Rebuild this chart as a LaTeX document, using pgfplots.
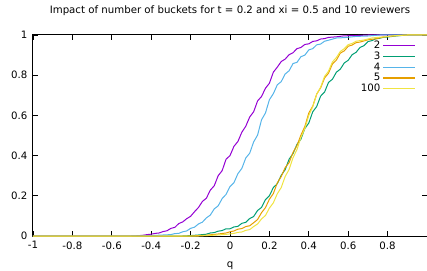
\documentclass[border=0pt]{standalone}
\usepackage{pgfplots}
\pgfplotsset{compat=1.18}
\usepackage{fontspec}
\setmainfont{DejaVu Sans}
\definecolor{gp1}{HTML}{9400D3}
\definecolor{gp2}{HTML}{009E73}
\definecolor{gp3}{HTML}{56B4E9}
\definecolor{gp4}{HTML}{E69F00}
\definecolor{gp5}{HTML}{F0E442}
\begin{document}
\begin{tikzpicture}
\begin{axis}[
  scale only axis,
  width=394pt, height=201pt,
  xmin=-1, xmax=1, ymin=0, ymax=1,
  xtick={-1,-0.8,-0.6,-0.4,-0.2,0,0.2,0.4,0.6,0.8},
  ytick={0,0.2,0.4,0.6,0.8,1},
  tick align=inside,
  major tick length=5pt,
  tick style={black, line width=0.8pt},
  axis line style={black, line width=1pt},
  /pgf/number format/assume math mode=true,
  /pgf/number format/fixed,
  /pgf/number format/precision=1,
  font=\fontsize{10.2}{12}\selectfont,
  ticklabel style={font=\fontsize{10.2}{12}\selectfont},
  xticklabel style={yshift=-2pt},
  yticklabel style={xshift=-2pt},
  title={Impact of number of buckets for t = 0.2 and xi = 0.5 and 10 reviewers},
  title style={at={(0.5,1)}, anchor=base, yshift=15pt, font=\fontsize{10.2}{12}\selectfont},
  xlabel={q},
  xlabel style={at={(0.5,0)}, anchor=base, yshift=-31pt},
  legend style={draw=none, fill=none, at={(1,1)}, anchor=north east, xshift=-8pt, yshift=-2pt, font=\fontsize{10.2}{12}\selectfont, row sep=-2.3pt},
  legend cell align=right,
  legend plot pos=right,
  legend image code/.code={\draw[#1, line width=1.4pt] (0pt,0pt) -- (32pt,0pt);},
  every axis plot/.append style={line width=1pt},
]
\addplot[gp1] coordinates {(-1,0) (-0.6,0) (-0.5,0) (-0.48,0.001) (-0.46,0.002) (-0.44,0.004) (-0.42,0.007) (-0.40,0.009) (-0.38,0.013) (-0.36,0.015) (-0.34,0.022) (-0.32,0.026) (-0.30,0.038) (-0.28,0.043) (-0.26,0.062) (-0.24,0.070) (-0.22,0.086) (-0.20,0.098) (-0.18,0.121) (-0.16,0.142) (-0.14,0.172) (-0.12,0.188) (-0.10,0.228) (-0.08,0.250) (-0.06,0.300) (-0.04,0.325) (-0.02,0.382) (0.00,0.400) (0.02,0.446) (0.04,0.470) (0.06,0.516) (0.08,0.546) (0.10,0.592) (0.12,0.618) (0.14,0.672) (0.16,0.694) (0.18,0.735) (0.20,0.760) (0.22,0.815) (0.24,0.840) (0.26,0.868) (0.28,0.880) (0.30,0.902) (0.32,0.912) (0.34,0.932) (0.36,0.938) (0.38,0.953) (0.40,0.956) (0.42,0.968) (0.44,0.971) (0.46,0.980) (0.48,0.982) (0.50,0.988) (0.54,0.991) (0.58,0.996) (0.64,0.997) (0.70,1) (1,1)};
\addlegendentry{2}
\addplot[gp2] coordinates {(-1,0) (-0.24,0) (-0.20,0.002) (-0.16,0.005) (-0.12,0.009) (-0.10,0.015) (-0.08,0.017) (-0.06,0.024) (-0.04,0.027) (-0.02,0.036) (0.00,0.036) (0.02,0.045) (0.04,0.048) (0.06,0.063) (0.08,0.068) (0.10,0.087) (0.12,0.097) (0.14,0.127) (0.16,0.142) (0.18,0.181) (0.20,0.200) (0.22,0.241) (0.24,0.260) (0.26,0.302) (0.28,0.330) (0.30,0.382) (0.32,0.410) (0.34,0.456) (0.36,0.482) (0.38,0.535) (0.40,0.562) (0.42,0.618) (0.44,0.644) (0.46,0.696) (0.48,0.716) (0.50,0.764) (0.52,0.780) (0.54,0.815) (0.56,0.830) (0.58,0.861) (0.60,0.874) (0.62,0.902) (0.64,0.914) (0.66,0.938) (0.68,0.947) (0.70,0.967) (0.72,0.972) (0.74,0.981) (0.76,0.984) (0.78,0.989) (0.80,0.990) (0.84,0.995) (0.90,1) (1,1)};
\addlegendentry{3}
\addplot[gp3] coordinates {(-1,0) (-0.5,0) (-0.44,0.001) (-0.40,0.002) (-0.36,0.004) (-0.32,0.006) (-0.30,0.007) (-0.28,0.012) (-0.26,0.013) (-0.24,0.021) (-0.22,0.025) (-0.20,0.038) (-0.18,0.044) (-0.16,0.060) (-0.14,0.069) (-0.12,0.090) (-0.10,0.104) (-0.08,0.135) (-0.06,0.150) (-0.04,0.186) (-0.02,0.207) (0.00,0.246) (0.02,0.265) (0.04,0.310) (0.06,0.336) (0.08,0.388) (0.10,0.412) (0.12,0.468) (0.14,0.502) (0.16,0.578) (0.18,0.612) (0.20,0.678) (0.22,0.708) (0.24,0.752) (0.26,0.768) (0.28,0.806) (0.30,0.822) (0.32,0.858) (0.34,0.864) (0.36,0.892) (0.38,0.900) (0.40,0.926) (0.42,0.932) (0.44,0.951) (0.46,0.955) (0.48,0.969) (0.50,0.974) (0.54,0.985) (0.58,0.987) (0.64,0.993) (0.70,0.995) (0.76,1) (1,1)};
\addlegendentry{4}
\addplot[gp4] coordinates {(-1,0) (-0.2,0) (-0.12,0.004) (-0.06,0.010) (-0.02,0.015) (0.00,0.021) (0.02,0.025) (0.04,0.034) (0.06,0.037) (0.08,0.047) (0.10,0.051) (0.12,0.066) (0.14,0.082) (0.16,0.116) (0.18,0.141) (0.20,0.183) (0.22,0.211) (0.24,0.264) (0.26,0.296) (0.28,0.340) (0.30,0.365) (0.32,0.416) (0.34,0.450) (0.36,0.502) (0.38,0.545) (0.40,0.612) (0.42,0.646) (0.44,0.706) (0.46,0.737) (0.48,0.786) (0.50,0.810) (0.52,0.856) (0.54,0.875) (0.56,0.910) (0.58,0.921) (0.60,0.944) (0.62,0.950) (0.64,0.962) (0.66,0.965) (0.70,0.976) (0.74,0.981) (0.78,0.990) (0.84,0.996) (0.90,1) (1,1)};
\addlegendentry{5}
\addplot[gp5] coordinates {(-1,0) (-0.16,0) (-0.08,0.004) (-0.02,0.008) (0.02,0.013) (0.04,0.018) (0.06,0.020) (0.08,0.028) (0.10,0.032) (0.12,0.047) (0.14,0.060) (0.16,0.085) (0.18,0.102) (0.20,0.139) (0.22,0.165) (0.24,0.210) (0.26,0.241) (0.28,0.296) (0.30,0.331) (0.32,0.390) (0.34,0.430) (0.36,0.490) (0.38,0.535) (0.40,0.600) (0.42,0.643) (0.44,0.705) (0.46,0.740) (0.48,0.794) (0.50,0.820) (0.52,0.866) (0.54,0.888) (0.56,0.918) (0.58,0.932) (0.60,0.952) (0.62,0.958) (0.64,0.969) (0.68,0.975) (0.72,0.985) (0.78,0.991) (0.84,0.997) (0.90,1) (1,1)};
\addlegendentry{100}
\end{axis}
\pgfresetboundingbox
\path[use as bounding box] ([xshift=-33pt,yshift=-34pt]current axis.south west) rectangle ([yshift=35pt]current axis.north east);
\end{tikzpicture}
\end{document}
